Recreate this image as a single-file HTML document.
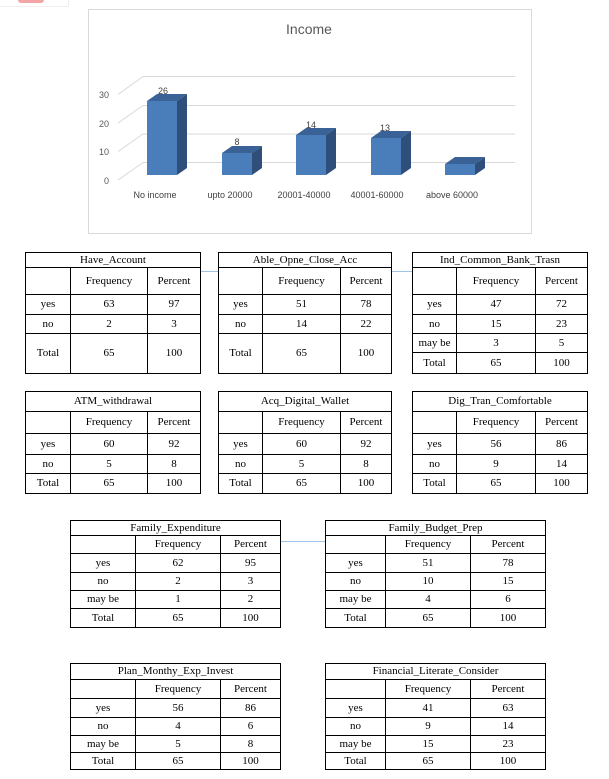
<!DOCTYPE html>
<html><head><meta charset="utf-8"><style>
body{margin:0;width:609px;height:779px;background:#fff;position:relative;overflow:hidden;font-family:"Liberation Serif",serif;}
table{position:absolute;border-collapse:collapse;table-layout:fixed;font-size:11px;color:#000;}
td{border:1px solid #000;text-align:center;padding:0;line-height:1;vertical-align:middle;}
td.h{vertical-align:middle;}
.ln{position:absolute;height:1px;background:#9dc3e6;}
</style></head><body>
<div style="position:absolute;left:0;top:0;width:68px;height:6px;border-bottom:1px solid #eee;border-right:1px solid #eee"></div>
<div style="position:absolute;left:18px;top:0;width:26px;height:3px;background:#f4a6a6;border-radius:0 0 12px 12px"></div>

<svg style="position:absolute;left:0;top:0" width="609" height="240" font-family="Liberation Sans, sans-serif">
<rect x="88.5" y="9.5" width="443" height="224" fill="#fff" stroke="#d9d9d9"/>
<text x="309" y="34" font-size="14" fill="#595959" text-anchor="middle">Income</text>
<g stroke="#d9d9d9" stroke-width="1" fill="none">
<line x1="143" y1="76.5" x2="515" y2="76.5"/><line x1="143" y1="105.5" x2="515" y2="105.5"/>
<line x1="143" y1="134" x2="515" y2="134"/><line x1="143" y1="162.5" x2="515" y2="162.5"/>
<line x1="118" y1="94.5" x2="143" y2="76.5"/><line x1="118" y1="123" x2="143" y2="105.5"/>
<line x1="118" y1="151.5" x2="143" y2="134"/><line x1="118" y1="180" x2="143" y2="162.5"/>
</g>
<g font-size="9" fill="#595959" text-anchor="end">
<text x="109" y="98">30</text><text x="109" y="127">20</text><text x="109" y="155">10</text><text x="109" y="184">0</text>
</g>
<g>
<polygon points="147,101 177,101 187,94 157,94" fill="#3a6296"/><polygon points="177,101 187,94 187,168 177,175" fill="#2f4f7a"/><rect x="147" y="101" width="30" height="74" fill="#4a7ebb"/>
<polygon points="222,153 252,153 262,146 232,146" fill="#3a6296"/><polygon points="252,153 262,146 262,168 252,175" fill="#2f4f7a"/><rect x="222" y="153" width="30" height="22" fill="#4a7ebb"/>
<polygon points="296,135 326,135 336,128 306,128" fill="#3a6296"/><polygon points="326,135 336,128 336,168 326,175" fill="#2f4f7a"/><rect x="296" y="135" width="30" height="40" fill="#4a7ebb"/>
<polygon points="371,138 401,138 411,131 381,131" fill="#3a6296"/><polygon points="401,138 411,131 411,168 401,175" fill="#2f4f7a"/><rect x="371" y="138" width="30" height="37" fill="#4a7ebb"/>
<polygon points="445,164 475,164 485,157 455,157" fill="#3a6296"/><polygon points="475,164 485,157 485,168 475,175" fill="#2f4f7a"/><rect x="445" y="164" width="30" height="11" fill="#4a7ebb"/>
</g>
<g font-size="9" fill="#404040" text-anchor="middle">
<text x="163" y="94">26</text><text x="237" y="145">8</text><text x="311" y="128">14</text><text x="385" y="131">13</text>
<text x="155" y="198">No income</text><text x="230" y="198">upto 20000</text><text x="304" y="198">20001-40000</text><text x="377" y="198">40001-60000</text><text x="452" y="198">above 60000</text>
</g>
</svg>

<div class="ln" style="left:200px;top:271px;width:18px"></div>
<div class="ln" style="left:391px;top:271px;width:21px"></div>
<div class="ln" style="left:280px;top:541px;width:45px"></div>

<table style="left:25px;top:252px;width:176px"><colgroup><col style="width:45px"><col style="width:77px"><col></colgroup>
<tr style="height:15px"><td colspan="3">Have_Account</td></tr>
<tr style="height:27px"><td></td><td class="h">Frequency</td><td class="h">Percent</td></tr>
<tr style="height:20px"><td>yes</td><td>63</td><td>97</td></tr>
<tr style="height:19px"><td>no</td><td>2</td><td>3</td></tr>
<tr style="height:40px"><td>Total</td><td>65</td><td>100</td></tr></table>

<table style="left:218px;top:252px;width:174px"><colgroup><col style="width:44px"><col style="width:78px"><col></colgroup>
<tr style="height:15px"><td colspan="3">Able_Opne_Close_Acc</td></tr>
<tr style="height:27px"><td></td><td class="h">Frequency</td><td class="h">Percent</td></tr>
<tr style="height:20px"><td>yes</td><td>51</td><td>78</td></tr>
<tr style="height:19px"><td>no</td><td>14</td><td>22</td></tr>
<tr style="height:40px"><td>Total</td><td>65</td><td>100</td></tr></table>

<table style="left:412px;top:252px;width:176px"><colgroup><col style="width:44px"><col style="width:79px"><col></colgroup>
<tr style="height:15px"><td colspan="3">Ind_Common_Bank_Trasn</td></tr>
<tr style="height:27px"><td></td><td class="h">Frequency</td><td class="h">Percent</td></tr>
<tr style="height:20px"><td>yes</td><td>47</td><td>72</td></tr>
<tr style="height:19px"><td>no</td><td>15</td><td>23</td></tr>
<tr style="height:19px"><td>may be</td><td>3</td><td>5</td></tr>
<tr style="height:21px"><td>Total</td><td>65</td><td>100</td></tr></table>

<table style="left:25px;top:391px;width:176px"><colgroup><col style="width:45px"><col style="width:77px"><col></colgroup>
<tr style="height:20px"><td colspan="3">ATM_withdrawal</td></tr>
<tr style="height:22px"><td></td><td class="h">Frequency</td><td class="h">Percent</td></tr>
<tr style="height:21px"><td>yes</td><td>60</td><td>92</td></tr>
<tr style="height:19px"><td>no</td><td>5</td><td>8</td></tr>
<tr style="height:20px"><td>Total</td><td>65</td><td>100</td></tr></table>

<table style="left:218px;top:391px;width:174px"><colgroup><col style="width:44px"><col style="width:78px"><col></colgroup>
<tr style="height:20px"><td colspan="3">Acq_Digital_Wallet</td></tr>
<tr style="height:22px"><td></td><td class="h">Frequency</td><td class="h">Percent</td></tr>
<tr style="height:21px"><td>yes</td><td>60</td><td>92</td></tr>
<tr style="height:19px"><td>no</td><td>5</td><td>8</td></tr>
<tr style="height:20px"><td>Total</td><td>65</td><td>100</td></tr></table>

<table style="left:412px;top:391px;width:176px"><colgroup><col style="width:44px"><col style="width:79px"><col></colgroup>
<tr style="height:20px"><td colspan="3">Dig_Tran_Comfortable</td></tr>
<tr style="height:22px"><td></td><td class="h">Frequency</td><td class="h">Percent</td></tr>
<tr style="height:21px"><td>yes</td><td>56</td><td>86</td></tr>
<tr style="height:19px"><td>no</td><td>9</td><td>14</td></tr>
<tr style="height:20px"><td>Total</td><td>65</td><td>100</td></tr></table>

<table style="left:70px;top:520px;width:211px"><colgroup><col style="width:65px"><col style="width:85px"><col></colgroup>
<tr style="height:15px"><td colspan="3">Family_Expenditure</td></tr>
<tr style="height:18px"><td></td><td class="h">Frequency</td><td class="h">Percent</td></tr>
<tr style="height:19px"><td>yes</td><td>62</td><td>95</td></tr>
<tr style="height:18px"><td>no</td><td>2</td><td>3</td></tr>
<tr style="height:18px"><td>may be</td><td>1</td><td>2</td></tr>
<tr style="height:19px"><td>Total</td><td>65</td><td>100</td></tr></table>

<table style="left:325px;top:520px;width:221px"><colgroup><col style="width:60px"><col style="width:85px"><col></colgroup>
<tr style="height:15px"><td colspan="3">Family_Budget_Prep</td></tr>
<tr style="height:18px"><td></td><td class="h">Frequency</td><td class="h">Percent</td></tr>
<tr style="height:19px"><td>yes</td><td>51</td><td>78</td></tr>
<tr style="height:18px"><td>no</td><td>10</td><td>15</td></tr>
<tr style="height:18px"><td>may be</td><td>4</td><td>6</td></tr>
<tr style="height:19px"><td>Total</td><td>65</td><td>100</td></tr></table>

<table style="left:70px;top:663px;width:211px"><colgroup><col style="width:65px"><col style="width:85px"><col></colgroup>
<tr style="height:16px"><td colspan="3">Plan_Monthy_Exp_Invest</td></tr>
<tr style="height:19px"><td></td><td class="h">Frequency</td><td class="h">Percent</td></tr>
<tr style="height:19px"><td>yes</td><td>56</td><td>86</td></tr>
<tr style="height:18px"><td>no</td><td>4</td><td>6</td></tr>
<tr style="height:17px"><td>may be</td><td>5</td><td>8</td></tr>
<tr style="height:17px"><td>Total</td><td>65</td><td>100</td></tr></table>

<table style="left:325px;top:663px;width:221px"><colgroup><col style="width:60px"><col style="width:85px"><col></colgroup>
<tr style="height:16px"><td colspan="3">Financial_Literate_Consider</td></tr>
<tr style="height:19px"><td></td><td class="h">Frequency</td><td class="h">Percent</td></tr>
<tr style="height:19px"><td>yes</td><td>41</td><td>63</td></tr>
<tr style="height:18px"><td>no</td><td>9</td><td>14</td></tr>
<tr style="height:17px"><td>may be</td><td>15</td><td>23</td></tr>
<tr style="height:17px"><td>Total</td><td>65</td><td>100</td></tr></table>
</body></html>
